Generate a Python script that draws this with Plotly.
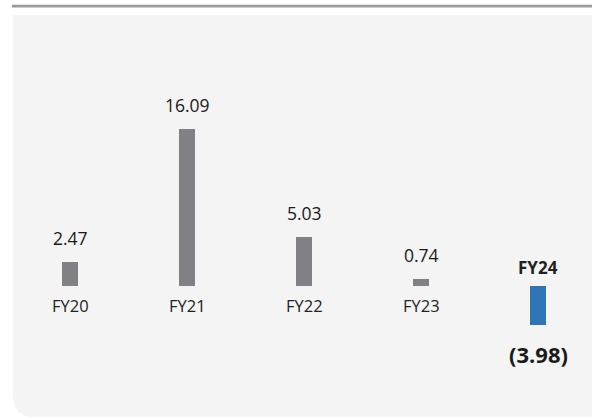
import plotly.graph_objects as go

# Fiscal-year results
years = ["FY20", "FY21", "FY22", "FY23", "FY24"]
values = [2.47, 16.09, 5.03, 0.74, -3.98]
bar_colors = ["#818185", "#818185", "#818185", "#818185", "#2f75b8"]

W, H = 592, 418
PANEL = "#f4f4f4"
FONT = "Open Sans"


def fmt(v):
    return f"({abs(v):.2f})" if v < 0 else f"{v:.2f}"


fig = go.Figure(
    go.Bar(
        x=years,
        y=values,
        marker=dict(color=bar_colors, line=dict(width=0)),
        width=0.137,
        hoverinfo="skip",
    )
)

annotations = []
for yr, v in zip(years, values):
    neg = v < 0
    # value label: above positive bars, below negative ones
    annotations.append(dict(
        x=yr, y=v, xref="x", yref="y",
        text=fmt(v),
        showarrow=False,
        yanchor="top" if neg else "bottom",
        yshift=-12 if neg else 10,
        font=dict(family=FONT, size=22 if neg else 17.5,
                  weight=700 if neg else 400, color="#1a1a1a"),
    ))
    # category label: below the baseline for positive bars, above for negative
    annotations.append(dict(
        x=yr, y=0, xref="x", yref="y",
        text=yr,
        showarrow=False,
        yanchor="bottom" if neg else "top",
        yshift=5 if neg else -6,
        font=dict(family=FONT, size=17 if neg else 16.5,
                  weight=700 if neg else 400, color="#222222"),
    ))

# white frame around the grey panel: top strip, left strip and a rounded
# bottom-left corner (paper coords converted from pixels)
px = lambda x: x / W
py = lambda y: 1 - y / H
r = 22
left, top, bottom = 13, 15, 417
corner_path = (
    f"M {px(-2)},{py(bottom - r)} L {px(left)},{py(bottom - r)} "
    f"Q {px(left)},{py(bottom)} {px(left + r)},{py(bottom)} "
    f"L {px(left + r)},{py(H + 2)} L {px(-2)},{py(H + 2)} Z"
)

shapes = [
    dict(type="rect", xref="paper", yref="paper",
         x0=px(-2), x1=px(W + 2), y0=py(top), y1=py(-2),
         fillcolor="white", line=dict(width=0), layer="below"),
    dict(type="rect", xref="paper", yref="paper",
         x0=px(-2), x1=px(left), y0=py(H + 2), y1=py(-2),
         fillcolor="white", line=dict(width=0), layer="below"),
    dict(type="rect", xref="paper", yref="paper",
         x0=px(-2), x1=px(W + 2), y0=py(H + 2), y1=py(bottom),
         fillcolor="white", line=dict(width=0), layer="below"),
    dict(type="path", xref="paper", yref="paper", path=corner_path,
         fillcolor="white", line=dict(width=0), layer="below"),
    dict(type="rect", xref="paper", yref="paper",
         x0=px(12), x1=px(W + 2), y0=py(7.5), y1=py(4.8),
         fillcolor="#9b9b9d", line=dict(width=0), layer="below"),
]

# axis ranges place the zero line at y=286 px and FY20 centre at x=70 px
unit = 9.75
step = 117
fig.update_layout(
    width=W, height=H,
    margin=dict(l=0, r=0, t=0, b=0),
    paper_bgcolor=PANEL,
    plot_bgcolor="rgba(0,0,0,0)",
    showlegend=False,
    xaxis=dict(visible=False, range=[-70 / step, (W - 70) / step], fixedrange=True),
    yaxis=dict(visible=False, range=[-(H - 286) / unit, 286 / unit], fixedrange=True),
    annotations=annotations,
    shapes=shapes,
    bargap=0,
)

fig.write_html("out.html", config={"displayModeBar": False})
